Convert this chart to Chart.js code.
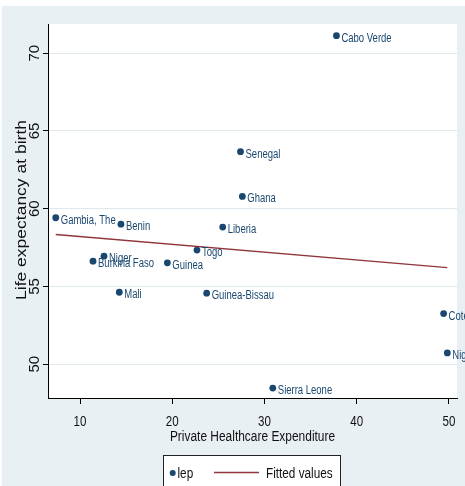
<!DOCTYPE html>
<html>
<head>
<meta charset="utf-8">
<script src="https://cdn.jsdelivr.net/npm/chart.js@4.4.1/dist/chart.umd.min.js"></script>
<style>
  html, body { margin: 0; padding: 0; background: #ffffff; }
  canvas { display: block; }
</style>
</head>
<body>
<canvas id="chart" width="465" height="486"></canvas>
<script>
// Countries plotted, with private healthcare expenditure and life expectancy at birth
const countries = ["Cabo Verde", "Senegal", "Ghana", "Gambia, The", "Benin", "Liberia", "Togo",
  "Niger", "Burkina Faso", "Guinea", "Mali", "Guinea-Bissau", "Cote d'Ivoire", "Nigeria", "Sierra Leone"];
const privateExpenditure = [37.8, 27.4, 27.6, 7.37, 14.44, 25.47, 22.68,
  12.6, 11.41, 19.47, 14.26, 23.73, 49.42, 49.82, 30.9];
const lifeExpectancy = [71.13, 63.67, 60.79, 59.42, 59.01, 58.82, 57.34,
  56.95, 56.63, 56.52, 54.63, 54.57, 53.26, 50.73, 48.47];
const xTickValues = [10, 20, 30, 40, 50];
const yTickValues = [50, 55, 60, 65, 70];
const xAxisTitle = 'Private Healthcare Expenditure';
const yAxisTitle = 'Life expectancy at birth';

const NAVY = '#1a476f';
const MAROON = '#90353b';
const TEXT = '#111111';
const FONT = '"Liberation Sans", Arial, sans-serif';

// Least-squares line through the points, evaluated at the smallest and largest x
function linearFit(xs, ys) {
  const n = xs.length;
  const mx = xs.reduce((a, b) => a + b, 0) / n;
  const my = ys.reduce((a, b) => a + b, 0) / n;
  let sxy = 0, sxx = 0;
  for (let i = 0; i < n; i++) {
    sxy += (xs[i] - mx) * (ys[i] - my);
    sxx += (xs[i] - mx) * (xs[i] - mx);
  }
  const slope = sxy / sxx;
  return { slope, intercept: my - slope * mx };
}
const fit = linearFit(privateExpenditure, lifeExpectancy);
const fitXs = [Math.min(...privateExpenditure), Math.max(...privateExpenditure)];
const fittedPoints = fitXs.map(x => ({ x, y: fit.intercept + fit.slope * x }));

const scatterPoints = countries.map((name, i) => ({ x: privateExpenditure[i], y: lifeExpectancy[i], name }));

// Text in a horizontally condensed face (optionally turned to read upwards)
function drawText(ctx, text, x, y, o) {
  ctx.save();
  ctx.translate(x, y);
  ctx.scale(o.squeeze || 1, 1);
  if (o.vertical) ctx.rotate(-Math.PI / 2);
  ctx.font = o.size + 'px ' + FONT;
  ctx.fillStyle = o.color || TEXT;
  ctx.textAlign = o.align || 'left';
  ctx.textBaseline = o.baseline || 'alphabetic';
  ctx.fillText(text, 0, 0);
  ctx.restore();
}

// Graph region, plot region fill
const backgroundPlugin = {
  id: 'backgrounds',
  beforeDraw(chart) {
    const { ctx, width, height, chartArea } = chart;
    ctx.save();
    ctx.fillStyle = '#ffffff';
    ctx.fillRect(0, 0, width, height);
    ctx.fillStyle = '#e9f0f3';
    ctx.fillRect(2, 6, width - 2, height - 6);
    ctx.fillStyle = '#ffffff';
    ctx.fillRect(chartArea.left, chartArea.top, chartArea.right - chartArea.left, chartArea.bottom - chartArea.top);
    ctx.restore();
  }
};

// Country names to the right of each marker
const pointLabelPlugin = {
  id: 'pointLabels',
  afterDatasetsDraw(chart) {
    const { ctx } = chart;
    const meta = chart.getDatasetMeta(1);
    const data = chart.data.datasets[1].data;
    meta.data.forEach((el, i) => {
      drawText(ctx, data[i].name, el.x + 5, el.y + 6, { size: 12.5, squeeze: 0.76, color: NAVY });
    });
  }
};

// Tick labels and titles for both axes
const axisTextPlugin = {
  id: 'axisText',
  afterDraw(chart) {
    const { ctx } = chart;
    const xs = chart.scales.x, ys = chart.scales.y;
    xs.ticks.forEach(t => {
      drawText(ctx, String(t.value), xs.getPixelForValue(t.value), xs.top + 28,
        { size: 15, squeeze: 0.77, align: 'center' });
    });
    drawText(ctx, xAxisTitle, (xs.left + xs.right) / 2, xs.top + 43,
      { size: 15.5, squeeze: 0.77, align: 'center' });
    ys.ticks.forEach(t => {
      drawText(ctx, String(t.value), ys.right - 9, ys.getPixelForValue(t.value),
        { size: 15, vertical: true, align: 'center' });
    });
    drawText(ctx, yAxisTitle, 25.6, (ys.top + ys.bottom) / 2 - 1,
      { size: 17.5, squeeze: 0.79, vertical: true, align: 'center' });
  }
};

// Boxed legend below the axis title
const legendBoxPlugin = {
  id: 'legendBox',
  afterDraw(chart) {
    const { ctx } = chart;
    const sets = chart.data.datasets;
    const left = 163.5, top = 455.5, w = 177, h = 40;
    const cy = 473;
    ctx.save();
    ctx.fillStyle = '#ffffff';
    ctx.fillRect(left, top, w, h);
    ctx.strokeStyle = '#222';
    ctx.lineWidth = 1;
    ctx.strokeRect(left, top, w, h);
    // marker entry
    ctx.beginPath();
    ctx.fillStyle = NAVY;
    ctx.arc(172.7, cy, 3, 0, Math.PI * 2);
    ctx.fill();
    // line entry
    ctx.strokeStyle = MAROON;
    ctx.lineWidth = 1.4;
    ctx.beginPath();
    ctx.moveTo(214, cy - 0.5);
    ctx.lineTo(259, cy - 0.5);
    ctx.stroke();
    ctx.restore();
    drawText(ctx, sets[1].label, 177.5, 478, { size: 14, squeeze: 0.84 });
    drawText(ctx, sets[0].label, 266, 478, { size: 14, squeeze: 0.84 });
  }
};

new Chart(document.getElementById('chart'), {
  type: 'scatter',
  data: {
    datasets: [
      {
        type: 'line',
        label: 'Fitted values',
        data: fittedPoints,
        borderColor: MAROON,
        borderWidth: 1.4,
        pointRadius: 0,
        fill: false,
        order: 0
      },
      {
        label: 'lep',
        data: scatterPoints,
        backgroundColor: NAVY,
        borderWidth: 0,
        pointRadius: 3.4,
        pointHoverRadius: 3.4,
        order: 1
      }
    ]
  },
  options: {
    responsive: false,
    animation: false,
    events: [],
    layout: { padding: { top: 24, right: 8, bottom: 41, left: 0 } },
    plugins: {
      legend: { display: false },
      tooltip: { enabled: false }
    },
    scales: {
      x: {
        type: 'linear',
        min: 6.53,
        max: 50.87,
        afterBuildTicks: s => { s.ticks = xTickValues.map(v => ({ value: v })); },
        afterFit: s => { s.height = 47; },
        grid: { drawOnChartArea: false, drawTicks: true, tickLength: 6, tickColor: '#000' },
        border: { color: '#000', width: 1 },
        ticks: { display: false },
        title: { display: false }
      },
      y: {
        type: 'linear',
        min: 47.83,
        max: 71.88,
        afterBuildTicks: s => { s.ticks = yTickValues.map(v => ({ value: v })); },
        afterFit: s => { s.width = 48; },
        grid: { color: '#dfe9ee', lineWidth: 1, drawTicks: true, tickLength: 5, tickColor: '#000' },
        border: { color: '#000', width: 1 },
        ticks: { display: false },
        title: { display: false }
      }
    }
  },
  plugins: [backgroundPlugin, pointLabelPlugin, axisTextPlugin, legendBoxPlugin]
});
</script>
</body>
</html>
